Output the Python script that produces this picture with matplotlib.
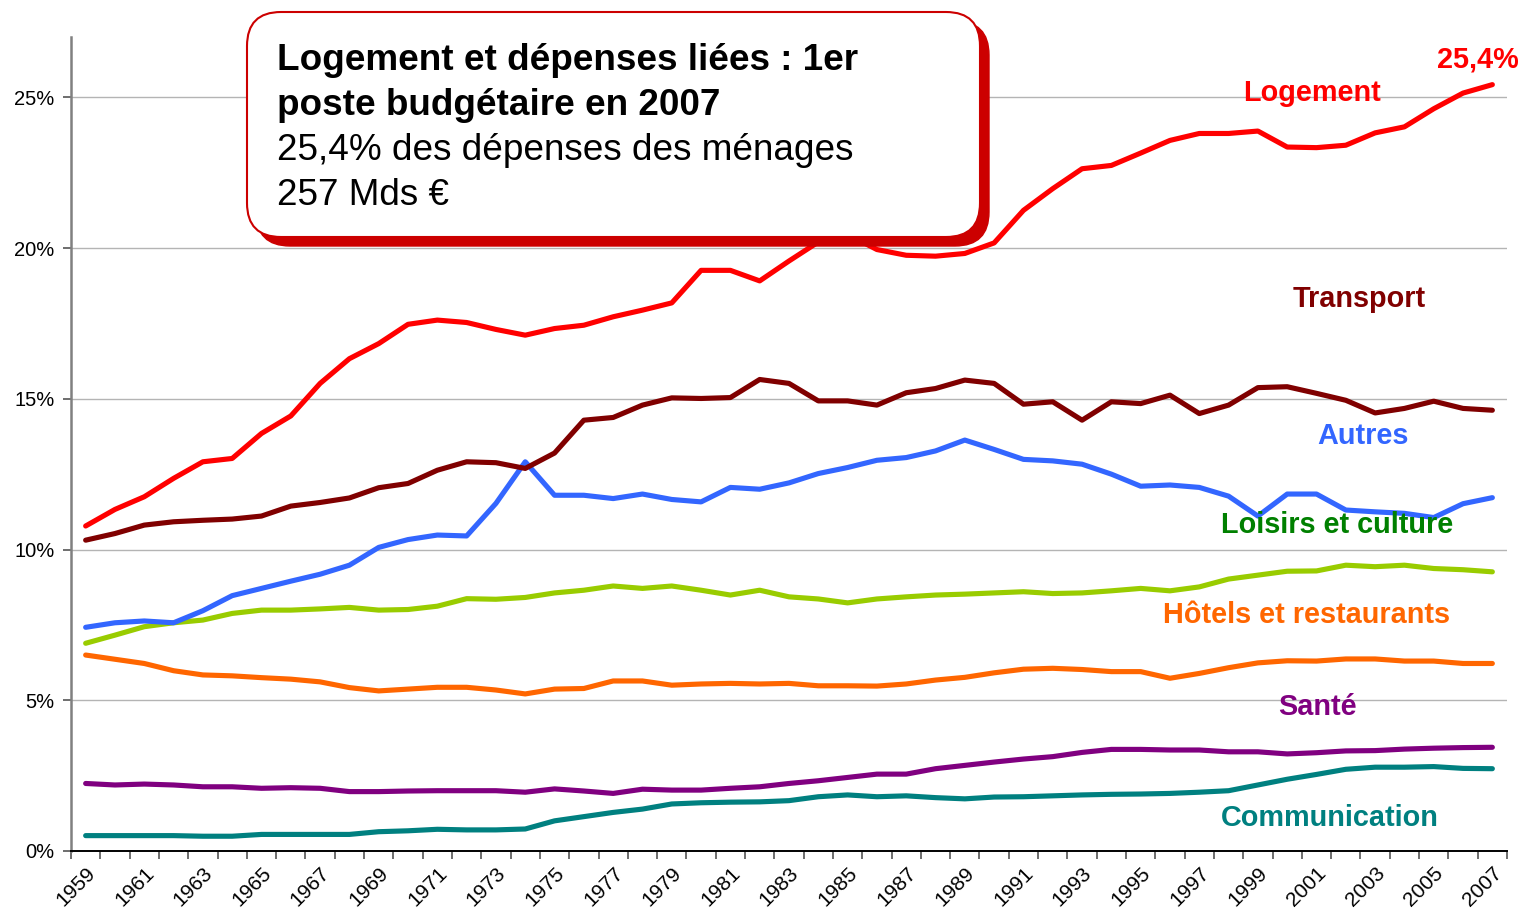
import numpy as np
import matplotlib
matplotlib.use("Agg")
import matplotlib.pyplot as plt
from matplotlib.patches import FancyBboxPatch
from matplotlib.ticker import FuncFormatter

plt.rcParams['font.family'] = ['Liberation Sans', 'DejaVu Sans']

# data: share of household spending (%), 1959-2007
years = list(range(1959, 2008))

logement = [10.78, 11.33, 11.75, 12.36, 12.91, 13.02, 13.85, 14.43, 15.51, 16.33,
            16.83, 17.47, 17.61, 17.53, 17.30, 17.11, 17.33, 17.44, 17.72, 17.94,
            18.18, 19.26, 19.26, 18.91, 19.57, 20.20, 20.45, 19.95, 19.76, 19.73,
            19.82, 20.17, 21.25, 21.97, 22.63, 22.74, 23.15, 23.57, 23.80, 23.80,
            23.88, 23.35, 23.33, 23.41, 23.82, 24.02, 24.62, 25.14, 25.42]
transport = [10.31, 10.53, 10.81, 10.92, 10.97, 11.01, 11.11, 11.44, 11.56, 11.71,
             12.05, 12.19, 12.63, 12.91, 12.88, 12.69, 13.20, 14.29, 14.38, 14.79,
             15.03, 15.01, 15.04, 15.64, 15.51, 14.93, 14.93, 14.79, 15.20, 15.34,
             15.62, 15.51, 14.82, 14.90, 14.29, 14.90, 14.84, 15.12, 14.51, 14.79,
             15.37, 15.40, 15.18, 14.95, 14.53, 14.68, 14.92, 14.68, 14.62]
autres = [7.42, 7.57, 7.63, 7.57, 7.97, 8.47, 8.71, 8.95, 9.18, 9.48,
          10.07, 10.33, 10.48, 10.45, 11.53, 12.91, 11.80, 11.80, 11.69, 11.84,
          11.66, 11.58, 12.06, 12.00, 12.21, 12.52, 12.72, 12.96, 13.05, 13.27,
          13.63, 13.32, 12.99, 12.94, 12.83, 12.50, 12.10, 12.14, 12.06, 11.77,
          11.11, 11.84, 11.84, 11.31, 11.25, 11.20, 11.06, 11.52, 11.72]
loisirs = [6.89, 7.16, 7.44, 7.57, 7.66, 7.88, 7.99, 7.99, 8.03, 8.08,
           7.99, 8.01, 8.12, 8.37, 8.35, 8.41, 8.56, 8.65, 8.79, 8.71,
           8.79, 8.65, 8.49, 8.65, 8.43, 8.36, 8.23, 8.36, 8.43, 8.49,
           8.52, 8.56, 8.60, 8.54, 8.56, 8.63, 8.71, 8.63, 8.76, 9.02,
           9.15, 9.28, 9.29, 9.48, 9.43, 9.48, 9.37, 9.33, 9.26]
hotels = [6.50, 6.36, 6.22, 5.98, 5.84, 5.81, 5.75, 5.70, 5.61, 5.42,
          5.31, 5.37, 5.43, 5.43, 5.34, 5.21, 5.37, 5.39, 5.64, 5.64,
          5.50, 5.54, 5.56, 5.54, 5.56, 5.48, 5.48, 5.47, 5.54, 5.67,
          5.76, 5.91, 6.03, 6.06, 6.02, 5.95, 5.95, 5.73, 5.89, 6.08,
          6.24, 6.31, 6.30, 6.37, 6.37, 6.30, 6.30, 6.22, 6.22]
sante = [2.24, 2.19, 2.22, 2.19, 2.13, 2.13, 2.08, 2.10, 2.08, 1.97,
         1.97, 1.99, 2.00, 2.00, 2.00, 1.95, 2.06, 1.99, 1.91, 2.05,
         2.02, 2.02, 2.08, 2.13, 2.24, 2.33, 2.44, 2.55, 2.55, 2.73,
         2.84, 2.95, 3.05, 3.13, 3.27, 3.37, 3.37, 3.35, 3.35, 3.29,
         3.29, 3.22, 3.26, 3.32, 3.33, 3.38, 3.41, 3.43, 3.44]
communication = [0.51, 0.51, 0.51, 0.51, 0.49, 0.49, 0.55, 0.55, 0.55, 0.55,
                 0.64, 0.67, 0.72, 0.70, 0.70, 0.73, 1.00, 1.14, 1.28, 1.39,
                 1.56, 1.60, 1.62, 1.63, 1.67, 1.80, 1.86, 1.80, 1.83, 1.77,
                 1.73, 1.79, 1.80, 1.83, 1.86, 1.88, 1.89, 1.91, 1.95, 2.00,
                 2.19, 2.38, 2.54, 2.71, 2.78, 2.78, 2.80, 2.74, 2.73]

series = [
    (communication, '#008080'),
    (sante, '#800080'),
    (hotels, '#FF6600'),
    (loisirs, '#99CC00'),
    (autres, '#3366FF'),
    (transport, '#800000'),
    (logement, '#FF0000'),
]

W, H = 1521, 918
fig = plt.figure(figsize=(W / 100, H / 100), dpi=100)
ax = fig.add_axes([71 / W, 1 - 851 / H, (1507 - 71) / W, (851 - 37) / H])

x = np.arange(len(years))
for vals, col in series:
    ax.plot(x, vals, color=col, lw=3.7, solid_capstyle='round', solid_joinstyle='round', zorder=3)

ax.set_xlim(-0.5, len(years) - 0.5)
ax.set_ylim(0, 27)
ax.set_yticks([0, 5, 10, 15, 20, 25])
ax.yaxis.set_major_formatter(FuncFormatter(lambda v, p: '%d%%' % v))
ax.yaxis.grid(True, color='#B4B4B4', lw=1.0)
ax.set_axisbelow(True)

# ticks between categories, labels every second year at the category centre
ax.set_xticks(np.arange(-0.5, len(years), 1.0), minor=False)
ax.set_xticklabels([])
ax.set_xticks(x[::2], minor=True)
ax.set_xticklabels([str(y) for y in years[::2]], minor=True, rotation=45,
                   ha='right', va='top', rotation_mode='anchor', fontsize=15)
ax.tick_params(axis='x', which='major', length=6, width=1.2, color='#555555', direction='out')
ax.tick_params(axis='x', which='minor', length=0, pad=9)
ax.tick_params(axis='y', length=6, width=1.2, color='#555555', labelsize=14.5, pad=6)

for s in ['top', 'right']:
    ax.spines[s].set_visible(False)
ax.spines['left'].set_color('#808080')
ax.spines['left'].set_linewidth(1.8)
ax.spines['bottom'].set_color('#000000')
ax.spines['bottom'].set_linewidth(1.4)

# overlay in pixel coordinates for callout and series labels
ov = fig.add_axes([0, 0, 1, 1], facecolor='none')
ov.set_xlim(0, W)
ov.set_ylim(H, 0)
ov.axis('off')

shadow = FancyBboxPatch((256, 21), 733, 225, boxstyle='round,pad=0,rounding_size=34',
                        fc='#CC0000', ec='#CC0000', lw=1)
box = FancyBboxPatch((247, 12), 733, 225, boxstyle='round,pad=0,rounding_size=34',
                     fc='white', ec='#CC0000', lw=1.5)
ov.add_patch(shadow)
ov.add_patch(box)

ov.text(277, 70, 'Logement et dépenses liées : 1er', fontsize=26.6, fontweight='bold', va='baseline')
ov.text(277, 115, 'poste budgétaire en 2007', fontsize=26.6, fontweight='bold', va='baseline')
ov.text(277, 160, '25,4% des dépenses des ménages', fontsize=26.6, va='baseline')
ov.text(277, 205, '257 Mds €', fontsize=26.6, va='baseline')

labels = [
    ('25,4%', 1437, 68, '#FF0000'),
    ('Logement', 1243, 101, '#FF0000'),
    ('Transport', 1293, 307, '#800000'),
    ('Autres', 1317, 444, '#3366FF'),
    ('Loisirs et culture', 1221, 533, '#008000'),
    ('Hôtels et restaurants', 1163, 623, '#FF6600'),
    ('Santé', 1278, 715, '#800080'),
    ('Communication', 1221, 826, '#008080'),
]
for txt, lx, ly, col in labels:
    ov.text(lx, ly, txt, color=col, fontsize=20.8, fontweight='bold', va='baseline', ha='left')

fig.savefig('out.png', dpi=100)
